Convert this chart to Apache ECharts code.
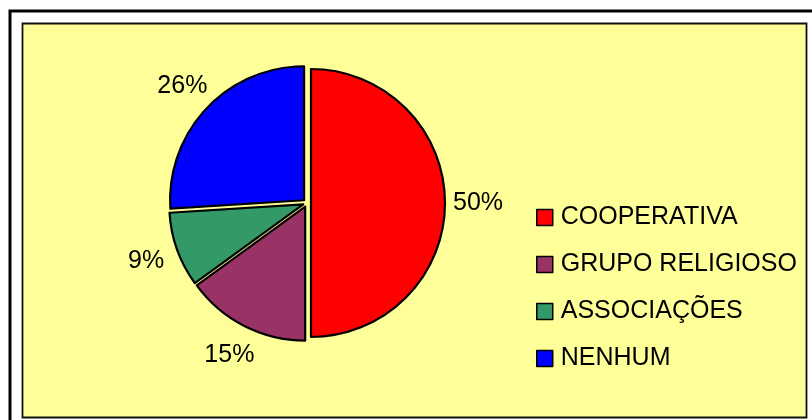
<!DOCTYPE html>
<html><head><meta charset="utf-8">
<script src="https://cdn.jsdelivr.net/npm/echarts@6/dist/echarts.min.js"></script>
<style>html,body{margin:0;padding:0;background:#fff}#c{width:812px;height:420px}</style>
</head><body><div id="c"></div>
<script>
const categories = ['COOPERATIVA', 'GRUPO RELIGIOSO', 'ASSOCIAÇÕES', 'NENHUM'];
const values = [50, 15, 9, 26];
const colors = ['#FF0000', '#993366', '#339966', '#0000FF'];

const FONT = "'Liberation Sans', Arial, sans-serif";
const CENTER = [307, 203];

const mainData = categories.map((n, i) => ({
  name: n, value: values[i], selected: true,
  itemStyle: { color: colors[i] }
}));
const labelData = categories.map((n, i) => ({ name: n, value: values[i] }));

const chart = echarts.init(document.getElementById('c'), null, { renderer: 'canvas' });
chart.setOption({
  animation: false,
  backgroundColor: '#ffffff',
  graphic: [
    { type: 'rect', z: -10, shape: { x: 10, y: 11, width: 860, height: 460 },
      style: { fill: 'none', stroke: '#000', lineWidth: 3 } },
    { type: 'rect', z: -9, shape: { x: 22.5, y: 23.5, width: 784, height: 394 },
      style: { fill: '#FFFF99', stroke: '#111', lineWidth: 1.8 } }
  ],
  legend: {
    data: categories,
    orient: 'vertical',
    left: 531,
    top: 200,
    padding: 5,
    icon: 'rect',
    itemWidth: 16,
    itemHeight: 16,
    itemGap: 22,
    selectedMode: false,
    itemStyle: { borderColor: '#000', borderWidth: 1.5 },
    textStyle: { fontFamily: FONT, fontSize: 25, lineHeight: 25, color: '#000', padding: [0, 0, 0, 3] }
  },
  series: [
    {
      type: 'pie',
      center: CENTER,
      radius: 134,
      startAngle: 90,
      clockwise: true,
      selectedMode: 'multiple',
      selectedOffset: 4,
      avoidLabelOverlap: false,
      label: { show: false },
      labelLine: { show: false },
      itemStyle: { borderColor: '#000', borderWidth: 2.2 },
      select: { itemStyle: { borderColor: '#000', borderWidth: 2.2 } },
      emphasis: { disabled: true },
      data: mainData
    },
    {
      type: 'pie',
      center: CENTER,
      radius: [148, 188],
      startAngle: 90,
      clockwise: true,
      silent: true,
      avoidLabelOverlap: false,
      itemStyle: { color: 'rgba(0,0,0,0)', borderWidth: 0 },
      label: {
        show: true, position: 'inside', formatter: '{c}%',
        fontFamily: FONT, fontSize: 25, color: '#000',
        textBorderWidth: 0
      },
      labelLine: { show: false },
      emphasis: { disabled: true },
      data: labelData
    }
  ]
});
</script>
</body></html>
